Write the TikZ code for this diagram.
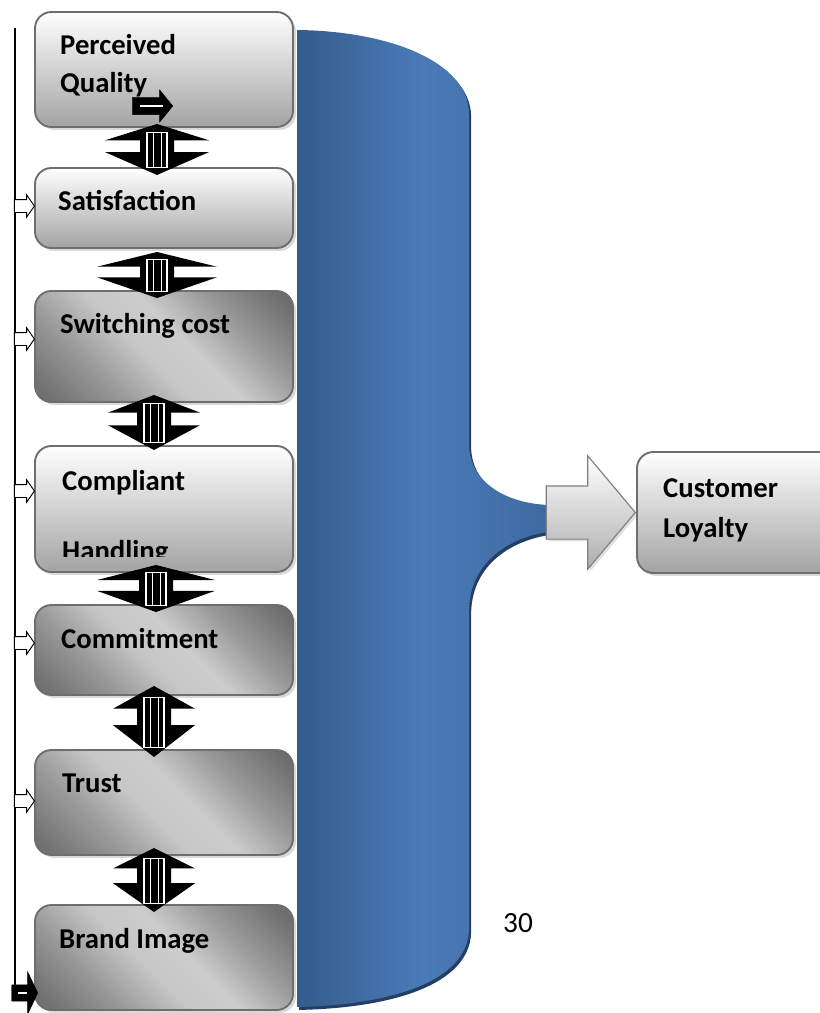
\documentclass[tikz,border=0pt]{standalone}
\usepackage{fontspec}
\setmainfont{Carlito}
\usetikzlibrary{shadows,shapes.arrows}

\definecolor{boxline}{HTML}{6E6E6E}
\definecolor{bluedark}{HTML}{345C8C}
\definecolor{bluelight}{HTML}{4A7BB8}
\definecolor{blueedge}{HTML}{243F63}

\pgfdeclareverticalshading{swirl}{100bp}{color(0bp)=(black!58); color(18bp)=(black!56);
  color(32bp)=(black!40); color(45bp)=(black!22); color(55bp)=(black!20); color(68bp)=(black!40);
  color(82bp)=(black!57); color(100bp)=(black!60)}

\tikzset{
  factor/.style={draw=boxline, line width=1.6pt, rounded corners=14pt, minimum width=7.74cm,
    drop shadow={shadow xshift=2.5pt, shadow yshift=-2.5pt, opacity=0.3, fill=gray}},
  plainbox/.style={factor, top color=white, bottom color=black!36},
  swirlbox/.style={factor, shading=swirl, shading angle=-45},
  lbl/.style={font=\bfseries\fontsize{24.5}{30}\selectfont, anchor=base west, inner sep=0pt},
  feed/.style={single arrow, draw=black, fill=white, line width=0.8pt, minimum height=0.6cm,
    inner xsep=0pt, inner ysep=0.18cm, single arrow head extend=0.14cm, single arrow tip angle=110, anchor=tip},
  solidtip/.style={single arrow, draw=black, fill=black, inner xsep=0pt, anchor=tip},
  push/.style={single arrow, draw=black!50, line width=1pt, top color=white, bottom color=black!32,
    minimum height=2.67cm, inner xsep=0pt, inner ysep=0.78cm, single arrow head extend=0.9cm,
    single arrow tip angle=100, anchor=tip, drop shadow={shadow xshift=2pt, shadow yshift=-2pt, opacity=0.25, fill=gray}},
}

\begin{document}
\begin{tikzpicture}[x=0.03cm, y=-0.03cm]
\useasboundingbox (0,0) rectangle (820,1013);

% the brace
\path[left color=bluedark, right color=bluedark!55!bluelight, middle color=bluelight,
  general shadow={shadow xshift=1.8pt, shadow yshift=-2.5pt, fill=blueedge}]
  (297,30) .. controls (390,31) and (468,62) .. (469,113) -- (469,445)
  .. controls (470,482) and (505,503) .. (548,505) -- (548,532)
  .. controls (512,537) and (470,560) .. (469,610) -- (469,930)
  .. controls (467,982) and (390,1005) .. (297,1007) -- cycle;
\coordinate (brace) at (548,519);

% factors
\node[plainbox, minimum height=3.45cm] (pq)  at (164,69.5) {};
\node[plainbox, minimum height=2.4cm]  (sat) at (164,208) {};
\node[swirlbox, minimum height=3.33cm] (sw)  at (164,346.5) {};
\node[plainbox, minimum height=3.78cm] (ch)  at (164,509) {};
\node[swirlbox, minimum height=2.7cm]  (com) at (164,650) {};
\node[swirlbox, minimum height=3.15cm] (tr)  at (164,802.5) {};
\node[swirlbox, minimum height=3.15cm] (bi)  at (164,957.5) {};

\node[plainbox, minimum width=6.39cm, minimum height=3.63cm] (cl) at (743.5,512.5) {};

\node[lbl] (pqa) at (60,55) {Perceived};
\node[lbl] (pqb) at (60,93) {Quality};
\node[lbl] (satl) at (58,210) {Satisfaction};
\node[lbl] (swl) at (60,333) {Switching cost};
\node[lbl] (cha) at (62,490) {Compliant};
\begin{scope}
  \clip (35,446) rectangle (293,556);
  \node[lbl] (chb) at (62,560) {Handling};
\end{scope}
\node[lbl] (coml) at (61,648) {Commitment};
\node[lbl] (trl) at (62,792) {Trust};
\node[lbl] (bil) at (59,948) {Brand Image};
\node[lbl] (cla) at (663,497) {Customer};
\node[lbl] (clb) at (663,537) {Loyalty};

\node[font=\fontsize{25}{30}\selectfont, anchor=base west, inner sep=0pt] (page) at (503,932) {30};

% brace to loyalty
\node[push] (out) at (cl.west) {};

% links between factors
\foreach \cx/\t/\b/\w in {157/124/175/52, 157/252/298/60, 154/395/450/46,
                          156/565/612/59, 154/686/757/41, 154/848/912/41}
{
  \pgfmathsetmacro\ha{\t+0.32*(\b-\t)}
  \pgfmathsetmacro\hb{\t+0.55*(\b-\t)}
  \pgfmathsetmacro\pa{\t+0.16*(\b-\t)}
  \pgfmathsetmacro\pb{\b-0.14*(\b-\t)}
  \fill (\cx,\t) -- (\cx+\w,\ha) -- (\cx+17,\ha) -- (\cx+17,\hb) -- (\cx+\w,\hb) -- (\cx,\b)
    -- (\cx-\w,\hb) -- (\cx-17,\hb) -- (\cx-17,\ha) -- (\cx-\w,\ha) -- cycle;
  \draw[white, line width=0.9pt] (\cx-10,\pa) rectangle (\cx+10,\pb);
  \draw[white, line width=0.7pt] (\cx-4,\pa) -- (\cx-4,\pb) (\cx+4,\pa) -- (\cx+4,\pb);
}

% rail on the left
\coordinate (top) at (15,28);
\coordinate (foot) at (15,987);
\draw[line width=1pt] (top) -- (foot);
\foreach \y/\n in {206/sat, 339/sw, 491/ch, 643/com, 801/tr}
  \node[feed] (f\n) at (35,\y) {};

\node[solidtip, minimum height=0.78cm, inner ysep=0.24cm, single arrow head extend=0.39cm,
  single arrow tip angle=129] (fbi) at (38,993) {};
\draw[white, line width=1.5pt] (18,993) -- (27,993);

\node[solidtip, minimum height=1.2cm, inner ysep=0.255cm, single arrow head extend=0.22cm,
  single arrow tip angle=102] (fpq) at (173,106) {};
\draw[white, line width=1.5pt] (140,106) -- (163,106);

\end{tikzpicture}
\end{document}
